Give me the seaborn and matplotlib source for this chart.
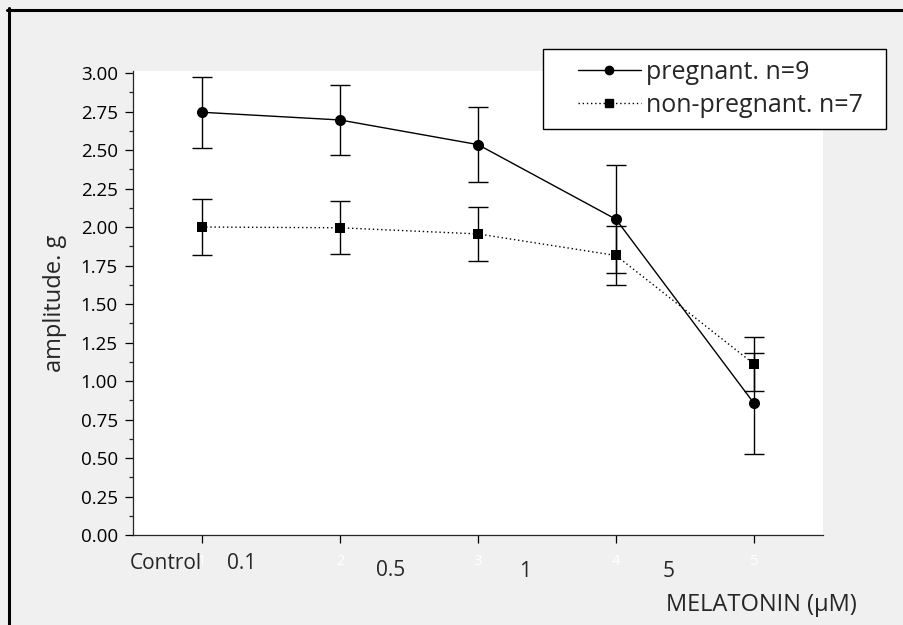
import numpy as np
import pandas as pd
import matplotlib
matplotlib.use("Agg")
import matplotlib.pyplot as plt
import matplotlib.transforms as mtransforms
from matplotlib.lines import Line2D
from matplotlib.patches import Rectangle
import seaborn as sns

# data
dose_pos = [1, 2, 3, 4, 5]
dose_labels = ["Control", "0.1", "0.5", "1", "5"]
hidden_ticks = ["1", "2", "3", "4", "5"]

preg_mean = [2.745, 2.695, 2.535, 2.05, 0.855]
preg_err = [0.23, 0.23, 0.245, 0.35, 0.33]
nonpreg_mean = [2.00, 1.995, 1.955, 1.815, 1.11]
nonpreg_err = [0.18, 0.172, 0.175, 0.19, 0.176]

groups = ["pregnant. n=9", "non-pregnant. n=7"]

df = pd.DataFrame({
    "dose": dose_pos * 2,
    "amp": preg_mean + nonpreg_mean,
    "err": preg_err + nonpreg_err,
    "group": [groups[0]] * 5 + [groups[1]] * 5,
})

sns.set_theme(style="ticks")
plt.rcParams["font.family"] = ["Open Sans", "DejaVu Sans"]
plt.rcParams["axes.linewidth"] = 0.9

fig = plt.figure(figsize=(9.04, 6.25), dpi=100, facecolor="#f0f0f0")
ax = fig.add_axes([133 / 904, 90 / 625, 690 / 904, 464 / 625])
ax.set_facecolor("white")

markers = {groups[0]: "o", groups[1]: "s"}
dashes = {groups[0]: "", groups[1]: (1, 2)}
sns.lineplot(data=df, x="dose", y="amp", hue="group", style="group",
             palette=["black", "black"], markers=markers, dashes=dashes,
             markersize=8, markeredgewidth=0, linewidth=1.0,
             legend=False, ax=ax)
for ln in ax.lines:
    if ln.get_marker() == "s":
        ln.set_markersize(7)

for g in groups:
    sub = df[df["group"] == g]
    ax.errorbar(sub["dose"], sub["amp"], yerr=sub["err"], fmt="none",
                ecolor="black", elinewidth=1.0, capsize=7, capthick=1.0)

ax.set_xlim(0.5, 5.5)
ax.set_ylim(0, 3.013)
ax.set_yticks(np.arange(0, 3.01, 0.25))
ax.set_yticklabels([f"{v:.2f}" for v in np.arange(0, 3.01, 0.25)])
ax.set_yticks(np.arange(0.125, 3.0, 0.25), minor=True)
ax.set_xticks(dose_pos, labels=hidden_ticks)
ax.tick_params(axis="y", which="major", length=6, width=0.9, pad=5,
               labelsize=13.5, colors="black")
ax.tick_params(axis="y", which="minor", length=3, width=0.9, left=True)
ax.tick_params(axis="x", length=6, width=0.9, pad=8, labelsize=10.5,
               labelcolor="white", color="black")
sns.despine(ax=ax)
ax.set_xlabel("")
ax.set_ylabel("amplitude. g", fontsize=17, labelpad=10)

# concentration labels sit between the ticks
trans = mtransforms.blended_transform_factory(ax.transData, ax.transAxes)
text_x = [1.0, 1.29, 2.37, 3.34, 4.38]
text_y = [-0.061, -0.061, -0.076, -0.078, -0.078]
for lab, tx, ty in zip(dose_labels, text_x, text_y):
    ax.text(tx, ty, lab, transform=trans, fontsize=15,
            ha="right" if lab == "Control" else "center", va="center")

fig.text(857 / 904, 1 - 605 / 625, "MELATONIN (\u03bcM)", fontsize=17,
         ha="right", va="center")

# legend box
fig.add_artist(Rectangle((543 / 904, 1 - 129 / 625), 343 / 904, 80 / 625,
                         transform=fig.transFigure, facecolor="white",
                         edgecolor="black", lw=1.0, zorder=4))
handles = [
    Line2D([], [], color="black", lw=1.0, marker="o", markersize=6),
    Line2D([], [], color="black", lw=1.0, ls=(0, (1, 2)), marker="s", markersize=6),
]
leg = fig.legend(handles, groups, loc="upper left",
                 bbox_to_anchor=(578 / 904, 1 - 60 / 625),
                 bbox_transform=fig.transFigure, fontsize=18,
                 frameon=False, handlelength=2.5, handletextpad=0.2,
                 borderpad=0, labelspacing=0.3, borderaxespad=0)
leg.set_zorder(5)

# frame of the original figure (top and left edges visible)
fig.add_artist(Line2D([7 / 904, 1], [1 - 9.5 / 625, 1 - 9.5 / 625],
                      transform=fig.transFigure, color="black", lw=2.2))
fig.add_artist(Line2D([8.5 / 904, 8.5 / 904], [0, 1 - 8 / 625],
                      transform=fig.transFigure, color="black", lw=2.2))

fig.savefig("out.png", dpi=100, facecolor=fig.get_facecolor())
